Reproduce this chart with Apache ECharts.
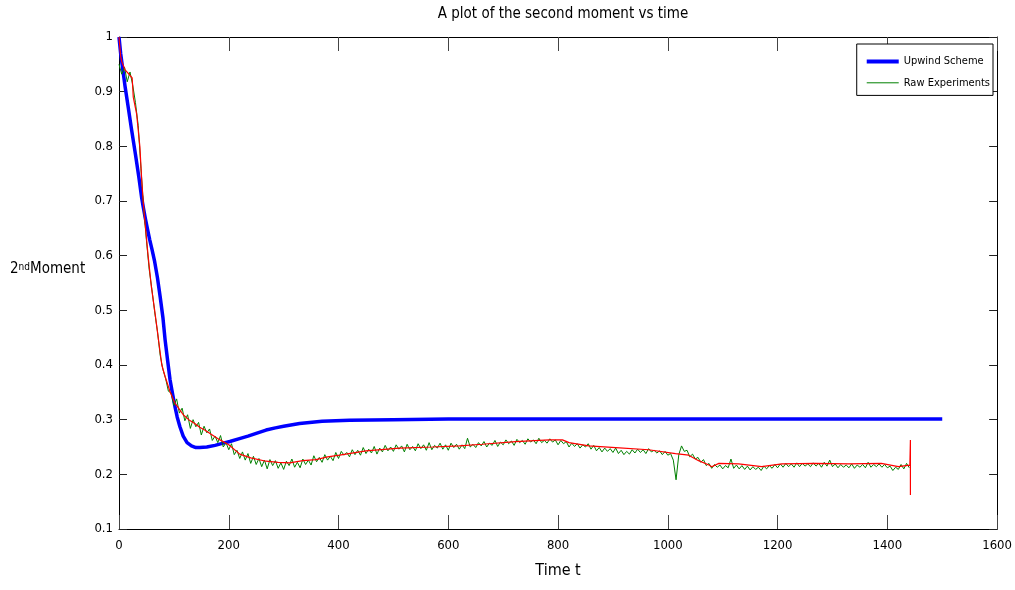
<!DOCTYPE html>
<html>
<head>
<meta charset="utf-8">
<script src="https://cdn.jsdelivr.net/npm/echarts@6/dist/echarts.min.js"></script>
<style>
html,body{margin:0;padding:0;background:#fff;}
#chart{width:1015px;height:590px;}
</style>
</head>
<body>
<div id="chart"></div>
<script>
// ---- data ----
const xTicks = [0, 200, 400, 600, 800, 1000, 1200, 1400, 1600];
const yTicks = [0.1, 0.2, 0.3, 0.4, 0.5, 0.6, 0.7, 0.8, 0.9, 1];

// Upwind scheme [t, value]
const upwindT = [0,3,7,11,17,23,30,36,41,44,48,52,56,60,65,70,75,80,84,89,93,98,102,106,111,117,124,132,140,147,160,175,190,202,218,235,250,268,285,300,329,370,420,500,600,800,1000,1200,1500];
const upwindV = [1.0,0.97,0.94,0.91,0.87,0.83,0.785,0.745,0.708,0.69,0.668,0.648,0.629,0.612,0.589,0.56,0.525,0.487,0.446,0.405,0.373,0.345,0.324,0.305,0.287,0.27,0.258,0.252,0.249,0.249,0.25,0.253,0.257,0.26,0.265,0.27,0.275,0.281,0.285,0.288,0.293,0.297,0.299,0.3,0.301,0.301,0.301,0.301,0.301];

// Raw experiments, sampled every 5 time units starting at t = 0
const rawStep = 5;
const rawV = [
0.950,0.932,0.945,0.918,0.936,0.912,0.880,0.838,0.760,0.686,
0.628,0.575,0.538,0.497,0.462,0.418,0.392,0.375,0.352,0.349,
0.326,0.338,0.312,0.321,0.298,0.309,0.284,0.300,0.287,0.295,
0.272,0.288,0.276,0.283,0.262,0.270,0.258,0.271,0.250,0.258,
0.245,0.256,0.236,0.244,0.229,0.241,0.226,0.238,0.220,0.233,
0.218,0.229,0.214,0.226,0.210,0.227,0.216,0.225,0.211,0.221,
0.209,0.224,0.216,0.228,0.213,0.222,0.212,0.228,0.218,0.226,
0.217,0.234,0.223,0.231,0.222,0.236,0.226,0.233,0.225,0.240,
0.229,0.242,0.235,0.240,0.232,0.245,0.236,0.244,0.235,0.249,
0.238,0.246,0.239,0.251,0.237,0.248,0.241,0.253,0.243,0.250,
0.242,0.254,0.246,0.252,0.241,0.255,0.245,0.251,0.243,0.256,
0.247,0.254,0.244,0.258,0.245,0.253,0.248,0.257,0.246,0.254,
0.244,0.257,0.249,0.255,0.246,0.254,0.247,0.266,0.250,0.255,
0.249,0.258,0.252,0.260,0.250,0.257,0.253,0.262,0.251,0.259,
0.254,0.263,0.256,0.261,0.253,0.264,0.258,0.262,0.255,0.265,
0.259,0.263,0.256,0.266,0.258,0.262,0.257,0.265,0.259,0.263,
0.254,0.262,0.256,0.260,0.250,0.257,0.251,0.256,0.248,0.254,
0.250,0.256,0.246,0.253,0.243,0.249,0.241,0.248,0.242,0.247,
0.240,0.248,0.238,0.244,0.236,0.242,0.237,0.245,0.239,0.246,
0.240,0.245,0.238,0.247,0.241,0.244,0.239,0.243,0.236,0.242,
0.235,0.238,0.226,0.190,0.236,0.252,0.242,0.244,0.232,0.237,
0.228,0.231,0.222,0.227,0.216,0.220,0.211,0.218,0.213,0.217,
0.210,0.216,0.212,0.228,0.211,0.217,0.210,0.216,0.209,0.215,
0.208,0.214,0.209,0.213,0.207,0.215,0.210,0.216,0.211,0.218,
0.212,0.219,0.213,0.220,0.214,0.219,0.213,0.221,0.214,0.220,
0.215,0.219,0.214,0.221,0.215,0.220,0.213,0.222,0.215,0.226,
0.214,0.219,0.212,0.218,0.213,0.217,0.212,0.219,0.211,0.217,
0.213,0.218,0.212,0.222,0.213,0.218,0.214,0.219,0.213,0.218,
0.212,0.215,0.207,0.213,0.209,0.218,0.210,0.220,0.212
];

// Smoothed experiment curve (red) [t, value]
const smoothT = [0,3,5,11,20,24,26,32,38,41,44,47,53,59,65,72,78,84,93,102,108,117,127,138,147,156,170,184,200,220,240,268,290,311,335,359,380,402,450,511,571,620,662,723,784,808,820,856,905,965,1014,1038,1056,1075,1080,1093,1129,1171,1208,1268,1329,1389,1420,1441,1442,1442];
const smoothV = [1.0,0.965,0.955,0.94,0.93,0.925,0.89,0.86,0.80,0.745,0.70,0.665,0.60,0.543,0.50,0.446,0.40,0.379,0.351,0.33,0.322,0.309,0.30,0.293,0.286,0.281,0.272,0.263,0.254,0.237,0.23,0.224,0.222,0.221,0.225,0.227,0.232,0.235,0.243,0.248,0.25,0.252,0.255,0.26,0.263,0.263,0.258,0.252,0.249,0.245,0.238,0.235,0.225,0.217,0.214,0.22,0.219,0.214,0.219,0.22,0.219,0.22,0.214,0.217,0.263,0.162];

// ---- build ----
const zip = (a, b) => a.map((v, i) => [v, b[i]]);
const rawData = rawV.map((v, i) => [i * rawStep, v]);

const FONT = "'Liberation Sans Narrow', 'DejaVu Sans Condensed', 'Liberation Sans', sans-serif";

const chart = echarts.init(document.getElementById('chart'), null, {renderer: 'canvas'});

const baseX = {
  type: 'value', min: 0, max: 1600, interval: 200,
  axisLine: {show: true, onZero: false, lineStyle: {color: '#000', width: 1}},
  axisTick: {show: true, inside: true, length: 14, lineStyle: {color: '#444'}},
  splitLine: {show: false}
};
const baseY = {
  type: 'value', min: 0.1, max: 1, interval: 0.1,
  axisLine: {show: true, onZero: false, lineStyle: {color: '#000', width: 1}},
  axisTick: {show: true, inside: true, length: 8, lineStyle: {color: '#222'}},
  splitLine: {show: false}
};

chart.setOption({
  animation: false,
  backgroundColor: '#fff',
  title: {
    text: 'A plot of the second moment vs time',
    left: 558, textAlign: 'center', top: 2,
    textStyle: {fontFamily: FONT, fontSize: 15, fontWeight: 'normal', color: '#000'}
  },
  grid: {left: 119, right: 16, top: 37, bottom: 61, containLabel: false},
  legend: {
    show: true,
    orient: 'vertical', right: 22, top: 44,
    padding: [12, 3, 7, 8],
    itemWidth: 32, itemHeight: 14, itemGap: 10,
    backgroundColor: '#fff', borderColor: '#000', borderWidth: 1, borderRadius: 0,
    textStyle: {fontFamily: FONT, fontSize: 11, color: '#000'},
    data: [
      {name: 'Upwind Scheme', lineStyle: {width: 4}, itemStyle: {opacity: 0}},
      {name: 'Raw Experiments', lineStyle: {width: 1}, itemStyle: {opacity: 0}}
    ]
  },
  xAxis: [
    Object.assign({}, baseX, {
      position: 'bottom',
      name: 'Time t', nameLocation: 'middle', nameGap: 34,
      nameTextStyle: {fontFamily: FONT, fontSize: 16, color: '#000'},
      axisLabel: {show: true, margin: 10, fontFamily: FONT, fontSize: 13, color: '#000',
        formatter: v => String(v)}
    }),
    Object.assign({}, baseX, {position: 'top', axisLabel: {show: false}})
  ],
  yAxis: [
    Object.assign({}, baseY, {
      position: 'left',
      axisLabel: {show: true, margin: 6, fontFamily: FONT, fontSize: 13, color: '#000'}
    }),
    Object.assign({}, baseY, {position: 'right', axisLabel: {show: false}})
  ],
  graphic: [{
    type: 'text', left: 10, top: 262,
    style: {
      text: '2{sup|nd}Moment',
      font: '15px ' + FONT, fill: '#000',
      rich: {sup: {fontSize: 10, fontFamily: FONT, verticalAlign: 'top', fill: '#000'}}
    }
  }],
  series: [
    {
      name: 'Upwind Scheme', type: 'line', data: zip(upwindT, upwindV),
      showSymbol: false, symbol: 'none', smooth: false,
      lineStyle: {color: '#0000ff', width: 3.5, join: 'round'}, itemStyle: {color: '#0000ff'}, z: 2
    },
    {
      name: 'Raw Experiments', type: 'line', data: rawData,
      showSymbol: false, symbol: 'none',
      lineStyle: {color: '#008000', width: 1}, itemStyle: {color: '#008000'}, z: 3
    },
    {
      name: 'Smoothed', type: 'line', data: zip(smoothT, smoothV),
      showSymbol: false, symbol: 'none',
      lineStyle: {color: '#ff0000', width: 1.2}, itemStyle: {color: '#ff0000'}, z: 4
    }
  ]
});
</script>
</body>
</html>
